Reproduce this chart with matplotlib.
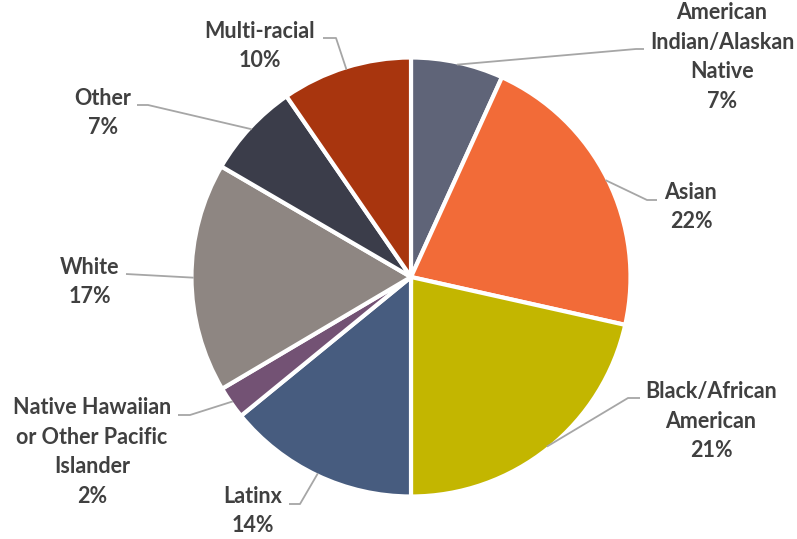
import numpy as np
import matplotlib
matplotlib.use('Agg')
import matplotlib.pyplot as plt

# slices clockwise from 12 o'clock
labels = ['American\nIndian/Alaskan\nNative', 'Asian', 'Black/African\nAmerican', 'Latinx',
          'Native Hawaiian\nor Other Pacific\nIslander', 'White', 'Other', 'Multi-racial']
shares = [6.8, 21.7, 21.5, 14.1, 2.4, 16.9, 7.0, 9.6]
pct_text = [7, 22, 21, 14, 2, 17, 7, 10]                 # printed labels
colors = ['#5f6478', '#f26b38', '#c3b600', '#475c7f', '#735274', '#8e8682', '#3b3d4a', '#a8350e']

W, H = 797, 539
CX, CY, R = 411, H - 277, 219.5

# label block centre and leader elbow (pixel coords, y from top)
label_pos = [(722, 57), (691, 207), (711, 421), (253, 511), (92, 452), (90, 282), (103, 113), (260, 46)]
elbows = [(636, 49), (647, 200), (628, 398), (300, 504), (190, 415), (126, 274), (148, 105), (336, 38)]
ends = [(644, 49), (657, 200), (640, 398), (289, 504), (178, 415), (126, 274), (137, 105), (323, 38)]

fig = plt.figure(figsize=(W / 100, H / 100), dpi=100)
ax = fig.add_axes([0, 0, 1, 1])

wedges, _ = ax.pie(shares, colors=colors, startangle=90, counterclock=False,
                   center=(CX, CY), radius=R, frame=True,
                   wedgeprops=dict(edgecolor='white', linewidth=3))
ax.set_xlim(0, W)
ax.set_ylim(0, H)
ax.set_aspect('equal')
ax.axis('off')

for w, lab, pct, (lx, ly), (ex, ey), (tx, ty) in zip(wedges, labels, pct_text, label_pos, elbows, ends):
    ang = np.deg2rad((w.theta1 + w.theta2) / 2)
    sx = CX + R * np.cos(ang) * 0.99
    sy = CY + R * np.sin(ang) * 0.99
    ax.plot([sx, ex, tx], [sy, H - ey, H - ty], color='#a6a6a6', lw=1.3,
            solid_capstyle='butt', zorder=1)
    ax.text(lx, H - ly, f'{lab}\n{pct}%', ha='center', va='center',
            fontsize=15.5, fontweight='bold', color='#404040', family='Lato',
            linespacing=1.52)

fig.savefig('out.png', dpi=100)
